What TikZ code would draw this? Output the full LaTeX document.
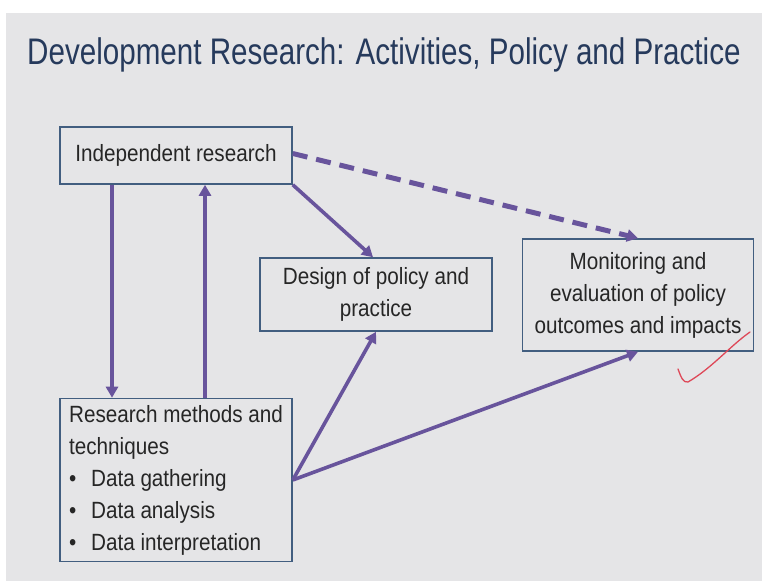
\documentclass[tikz,border=0pt]{standalone}
\usepackage{fontspec}
\setmainfont{Liberation Sans}[FakeStretch=0.88]
\newfontfamily\titlefont{Liberation Sans}[FakeStretch=0.80]
\usetikzlibrary{arrows.meta}

\definecolor{slidebg}{RGB}{229,229,231}
\definecolor{titleblue}{RGB}{38,58,92}
\definecolor{boxline}{RGB}{66,94,128}
\definecolor{linkpurple}{RGB}{104,84,156}
\definecolor{inkred}{RGB}{222,72,88}

\begin{document}
\begin{tikzpicture}[x=1pt,y=-1pt,
    box/.style={draw=boxline, line width=1.6pt, fill=slidebg, inner sep=0pt,
        minimum width=232pt, text=black!85, align=center,
        font=\fontsize{23.5}{32}\selectfont},
    link/.style={draw=linkpurple, line width=3.6pt,
        -{Triangle[length=11pt,width=12pt]}},
    dashlink/.style={link, line width=5pt, dash pattern=on 15pt off 9pt}]

    %slide:
    \fill[white] (0,0) rectangle (762,581);
    \fill[slidebg] (6,13) rectangle (762,581);
    \useasboundingbox (0,0) rectangle (762,581);

    \node[anchor=base west, text=titleblue, inner sep=0pt,
        font=\titlefont\fontsize{37}{40}\selectfont] (title) at (27,64)
        {Development Research: Activities, Policy and Practice};

    %boxes:
    \node[box, minimum height=57pt] (indep) at (176,155.5) {Independent research};
    \node[box, minimum height=73pt] (design) at (376,294.5) {Design of policy and\\practice};
    \node[box, minimum width=231pt, minimum height=112pt] (monitor) at (638,295)
        {Monitoring and\\evaluation of policy\\outcomes and impacts};
    \node[box, minimum height=163pt, align=left] (methods) at (176,480)
        {\fontsize{23.5}{33}\selectfont Research methods and\\techniques\\
        \makebox[22pt][l]{\textbullet}Data gathering\\
        \makebox[22pt][l]{\textbullet}Data analysis\\
        \makebox[22pt][l]{\textbullet}Data interpretation};

    %arrows:
    \draw[link] ([xshift=-64pt]indep.south) -- ([xshift=-64pt]methods.north);
    \draw[link] ([xshift=29pt]methods.north) -- ([xshift=29pt]indep.south);
    \draw[link] (indep.south east) -- ([xshift=-3pt]design.north);
    \draw[dashlink] ([yshift=2pt]indep.east) -- (monitor.north);
    \draw[link] (methods.east) -- (design.south);
    \draw[link] (methods.east) -- (monitor.south);

    %tick:
    \draw[inkred, line width=1.3pt, line cap=round] (678,369)
        .. controls (681,377) and (683,383) .. (688,382)
        .. controls (712,368) and (730,346) .. (750,332);

\end{tikzpicture}
\end{document}
